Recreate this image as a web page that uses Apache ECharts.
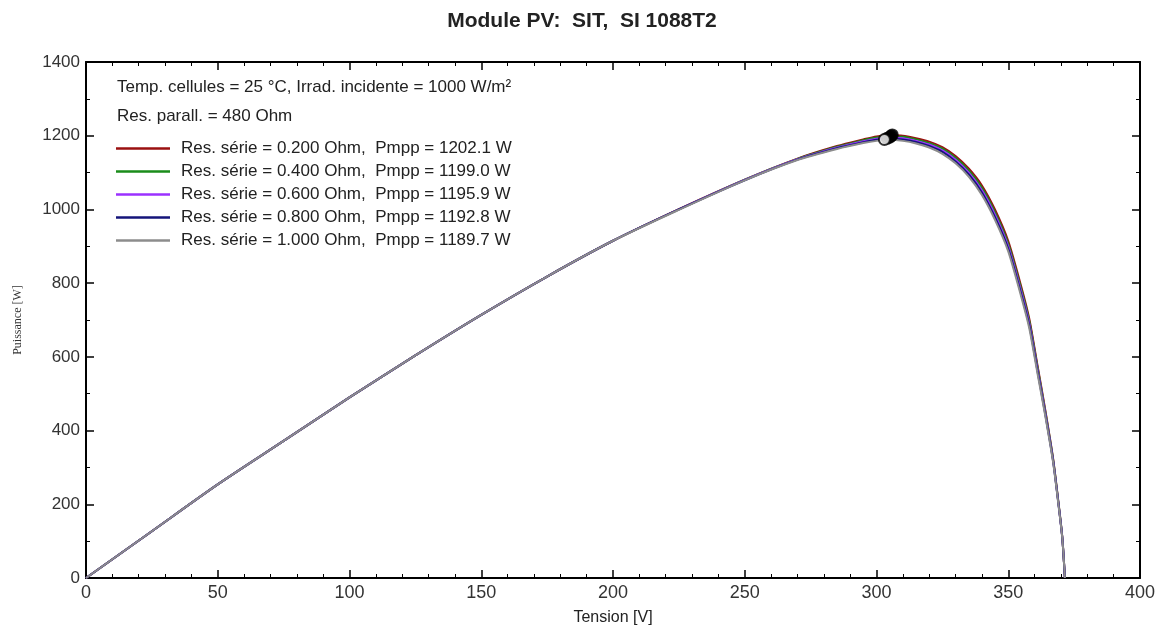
<!DOCTYPE html>
<html><head><meta charset="utf-8">
<script src="https://cdn.jsdelivr.net/npm/echarts@6/dist/echarts.min.js"></script>
<style>html,body{margin:0;padding:0;background:#fff}#c{width:1164px;height:629px}</style>
</head><body><div id="c"></div>
<script>
const titleText = 'Module PV:  SIT,  SI 1088T2';
const infoLines = ['Temp. cellules = 25 °C, Irrad. incidente = 1000 W/m²', 'Res. parall. = 480 Ohm'];
const seriesNames = [
  'Res. série = 0.200 Ohm,  Pmpp = 1202.1 W',
  'Res. série = 0.400 Ohm,  Pmpp = 1199.0 W',
  'Res. série = 0.600 Ohm,  Pmpp = 1195.9 W',
  'Res. série = 0.800 Ohm,  Pmpp = 1192.8 W',
  'Res. série = 1.000 Ohm,  Pmpp = 1189.7 W'
];
const seriesColors = ['#9a1010', '#1a8c1a', '#9b30ff', '#14147a', '#8c8c8c'];
const voltage = [0,25,50,75,100,125,150,175,200,225,250,270,285,295,300,305,310,315,320,325,330,335,340,345,350,355,358,361,364,367,369,370.5,371.5];
const powerRs020 = [0,127,254,372,490,604,714,818,915,1001,1081,1138,1172,1190,1198,1201,1200,1193,1184,1169,1145,1111,1065,999,914,789,703,581,458,325,208,111,0];
const powerRs040 = [0,127,254,372,490,604,714,818,915,1000,1081,1137,1170,1188,1195,1198,1197,1190,1180,1165,1140,1106,1059,992,907,782,697,576,454,323,207,111,0];
const powerRs060 = [0,127,254,372,490,604,714,818,915,1000,1080,1136,1168,1185,1192,1195,1193,1186,1176,1160,1135,1100,1052,985,900,775,690,570,450,320,205,110,0];
const powerRs080 = [0,127,254,372,490,604,714,818,915,1000,1079,1135,1166,1182,1189,1192,1190,1183,1172,1156,1130,1095,1046,978,893,768,684,565,446,318,204,109,0];
const powerRs100 = [0,127,254,372,490,604,714,818,915,999,1079,1134,1164,1180,1186,1189,1186,1179,1168,1151,1125,1089,1039,971,886,761,677,559,442,315,202,109,0];
const mppV = [306.0, 305.5, 305.0, 304.0, 303.0];
const mppP = [1202.1, 1199.0, 1195.9, 1192.8, 1189.7];
const xTicks = {min:0, max:400, interval:50};
const yTicks = {min:0, max:1400, interval:200};

const powers = [powerRs020, powerRs040, powerRs060, powerRs080, powerRs100];
const chart = echarts.init(document.getElementById('c'));
const font = 'Liberation Sans, Arial, sans-serif';
const axisCommon = {
  axisLine: {onZero:false, lineStyle:{color:'#000', width:2}},
  axisTick: {inside:true, length:8, lineStyle:{color:'#000', width:1.5}},
  splitLine: {show:false}
};
function minor(n){ return {minorTick:{show:true, splitNumber:n, length:4, lineStyle:{color:'#000', width:1}}}; }
const series = powers.map((p, i) => ({
  name: seriesNames[i], type:'line', showSymbol:false, smooth:0.25,
  data: voltage.map((v, j) => [v, p[j]]),
  lineStyle:{color:seriesColors[i], width:2}, itemStyle:{color:seriesColors[i]},
  z: 2 + i, animation:false
}));
series.push({
  name:'mpp', type:'scatter', symbolSize:11, z:20, animation:false,
  data: mppV.map((v, i) => ({value:[v, mppP[i]], itemStyle:{color: i === 4 ? '#fff' : '#000', borderColor:'#000', borderWidth:2}}))
});
chart.setOption({
  backgroundColor:'#fff',
  animation:false,
  title:{text:titleText, left:'center', top:6, textStyle:{fontFamily:font, fontSize:21, fontWeight:'bold', color:'#222'}},
  grid:{left:86, right:24, top:62, bottom:51, containLabel:false, outerBoundsMode:'none'},
  xAxis:[
    Object.assign({type:'value', position:'bottom', min:xTicks.min, max:xTicks.max, interval:xTicks.interval,
      name:'Tension [V]', nameLocation:'middle', nameGap:32,
      nameTextStyle:{fontFamily:font, fontSize:16, color:'#222'},
      axisLabel:{fontFamily:font, fontSize:18, color:'#333', margin:6, formatter: v => String(v)}}, axisCommon, minor(5)),
    Object.assign({type:'value', position:'top', min:xTicks.min, max:xTicks.max, interval:xTicks.interval,
      axisLabel:{show:false}}, axisCommon, minor(5))
  ],
  yAxis:[
    Object.assign({type:'value', position:'left', min:yTicks.min, max:yTicks.max, interval:yTicks.interval,
      name:'Puissance [W]', nameLocation:'middle', nameGap:62, nameRotate:90,
      nameTextStyle:{fontFamily:'Liberation Serif, Times New Roman, serif', fontSize:12, color:'#333'},
      axisLabel:{fontFamily:font, fontSize:17, color:'#333', margin:6, formatter: v => String(v)}}, axisCommon, minor(2)),
    Object.assign({type:'value', position:'right', min:yTicks.min, max:yTicks.max, interval:yTicks.interval,
      axisLabel:{show:false}}, axisCommon, minor(2))
  ],
  legend:{
    data: seriesNames, orient:'vertical', left:111, top:134,
    icon:'rect', itemWidth:54, itemHeight:2.5, itemGap:4,
    textStyle:{fontFamily:font, fontSize:17, color:'#222', lineHeight:19, padding:[0,0,0,6]},
    selectedMode:false
  },
  graphic:[
    {type:'text', left:117, top:79, style:{text:infoLines[0], font:'17px Liberation Sans, Arial, sans-serif', fill:'#222'}},
    {type:'text', left:117, top:108, style:{text:infoLines[1], font:'17px Liberation Sans, Arial, sans-serif', fill:'#222'}}
  ],
  series: series
});
</script></body></html>
